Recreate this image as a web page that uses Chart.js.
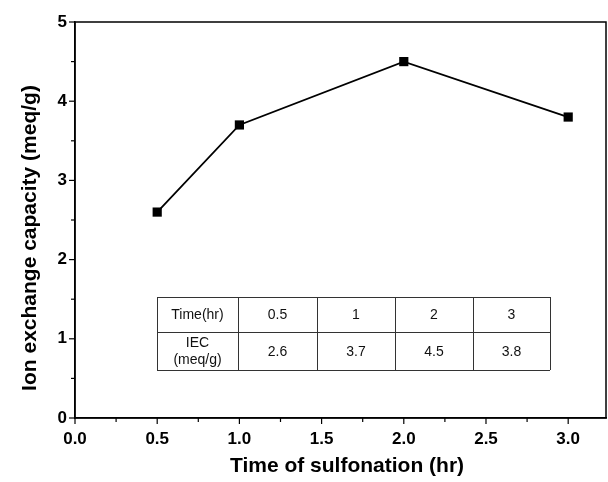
<!DOCTYPE html>
<html>
<head>
<meta charset="utf-8">
<script src="https://cdn.jsdelivr.net/npm/chart.js@4.4.0/dist/chart.umd.min.js"></script>
<style>
  html, body { margin: 0; padding: 0; background: #ffffff; }
  #wrap { width: 608px; height: 482px; }
</style>
</head>
<body>
<div id="wrap"><canvas id="c" width="608" height="482"></canvas></div>
<script>
// ---- data ----
const timeHours = [0.5, 1, 2, 3];
const iecValues = [2.6, 3.7, 4.5, 3.8];
const tableTimeLabels = ['0.5', '1', '2', '3'];
const tableIecLabels = ['2.6', '3.7', '4.5', '3.8'];
const xTitle = 'Time of sulfonation (hr)';
const yTitle = 'Ion exchange capacity (meq/g)';
const tableRowHeaders = [['Time(hr)'], ['IEC', '(meq/g)']];

const FONT = "'Liberation Sans', Arial, sans-serif";
const isMult = (v, step) => Math.abs(v / step - Math.round(v / step)) < 1e-6;

const decorPlugin = {
  id: 'decor',
  afterDraw(chart) {
    const ctx = chart.ctx;
    const a = chart.chartArea;
    const xs = chart.scales.x, ys = chart.scales.y;
    ctx.save();
    // frame
    ctx.strokeStyle = '#000';
    ctx.lineWidth = 1.5;
    ctx.strokeRect(a.left, a.top, a.right - a.left, a.bottom - a.top);
    // ticks
    ctx.lineWidth = 1.2;
    xs.ticks.forEach(t => {
      if (!isMult(t.value, 0.25)) return;
      const px = xs.getPixelForValue(t.value);
      const major = isMult(t.value, 0.5);
      ctx.beginPath();
      ctx.moveTo(px, a.bottom);
      ctx.lineTo(px, a.bottom + (major ? 6 : 4));
      ctx.stroke();
    });
    ys.ticks.forEach(t => {
      const py = ys.getPixelForValue(t.value);
      const major = isMult(t.value, 1);
      ctx.beginPath();
      ctx.moveTo(a.left, py);
      ctx.lineTo(a.left - (major ? 6 : 4), py);
      ctx.stroke();
    });
    // axis titles
    ctx.fillStyle = '#000';
    ctx.font = 'bold 21px ' + FONT;
    ctx.textAlign = 'center';
    ctx.textBaseline = 'middle';
    ctx.fillText(xTitle, 347, 466);
    ctx.save();
    ctx.translate(30, 238);
    ctx.rotate(-Math.PI / 2);
    ctx.fillText(yTitle, 0, 0);
    ctx.restore();
    // table
    const colX = [157, 238, 317, 395, 473, 550];
    const rowY = [297, 332, 370];
    ctx.strokeStyle = '#333';
    ctx.lineWidth = 1;
    ctx.beginPath();
    colX.forEach(x => { ctx.moveTo(x + 0.5, rowY[0]); ctx.lineTo(x + 0.5, rowY[2]); });
    rowY.forEach(y => { ctx.moveTo(colX[0], y + 0.5); ctx.lineTo(colX[colX.length - 1], y + 0.5); });
    ctx.stroke();
    ctx.fillStyle = '#111';
    ctx.font = '14px ' + FONT;
    const rows = [tableTimeLabels, tableIecLabels];
    for (let r = 0; r < 2; r++) {
      const cy = (rowY[r] + rowY[r + 1]) / 2;
      const hdr = tableRowHeaders[r];
      const cx0 = (colX[0] + colX[1]) / 2;
      if (hdr.length === 1) {
        ctx.fillText(hdr[0], cx0, cy + 1);
      } else {
        ctx.fillText(hdr[0], cx0, cy - 8);
        ctx.fillText(hdr[1], cx0, cy + 9);
      }
      rows[r].forEach((v, i) => {
        const cx = (colX[i + 1] + colX[i + 2]) / 2;
        ctx.fillText(v, cx, cy + 1);
      });
    }
    ctx.restore();
  }
};

new Chart(document.getElementById('c'), {
  type: 'line',
  data: {
    datasets: [{
      data: timeHours.map((x, i) => ({ x: x, y: iecValues[i] })),
      borderColor: '#000',
      backgroundColor: '#000',
      borderWidth: 1.8,
      pointStyle: 'rect',
      pointRadius: 6.5,
      pointBorderWidth: 0,
      pointBackgroundColor: '#000',
      tension: 0,
      fill: false
    }]
  },
  options: {
    responsive: false,
    animation: false,
    layout: { autoPadding: false, padding: { top: 22, right: 2, left: 0, bottom: 0 } },
    plugins: { legend: { display: false }, tooltip: { enabled: false }, title: { display: false } },
    scales: {
      x: {
        type: 'linear',
        min: 0, max: 3.23,
        grid: { display: false, drawTicks: true, tickLength: 11 },
        border: { display: true, color: '#000', width: 1.5 },
        ticks: {
          stepSize: 0.25,
          includeBounds: false,
          autoSkip: false,
          maxRotation: 0,
          padding: 0,
          color: '#000',
          font: { family: FONT, size: 17, weight: 'bold' },
          callback: v => (isMult(v, 0.5) ? v.toFixed(1) : '')
        },
        afterBuildTicks: s => { s.ticks.push({ value: s.max }); },
        afterFit: s => { s.height = 64; }
      },
      y: {
        type: 'linear',
        min: 0, max: 5,
        grid: { display: false, drawTicks: false },
        border: { display: true, color: '#000', width: 1.5 },
        ticks: {
          stepSize: 0.5,
          autoSkip: false,
          padding: 8,
          color: '#000',
          font: { family: FONT, size: 17, weight: 'bold' },
          callback: v => (isMult(v, 1) ? String(v) : '')
        },
        afterFit: s => { s.width = 75; }
      }
    }
  },
  plugins: [decorPlugin]
});
</script>
</body>
</html>
